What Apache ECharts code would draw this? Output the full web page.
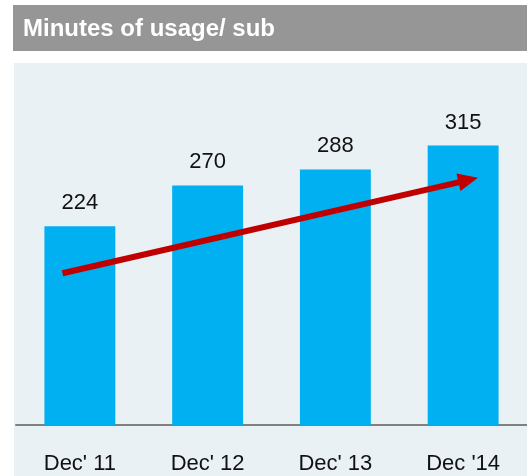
<!DOCTYPE html>
<html>
<head>
<meta charset="utf-8">
<script src="https://cdn.jsdelivr.net/npm/echarts@6/dist/echarts.min.js"></script>
<style>
  html, body { margin: 0; padding: 0; background: #fff; }
  #chart { width: 527px; height: 476px; }
</style>
</head>
<body>
<div id="chart"></div>
<script>
// data
const categories = ["Dec' 11", "Dec' 12", "Dec' 13", "Dec '14"];
const minutes = [224, 270, 288, 315];
// trend arrow ends, in (category position, value) units
const trendStart = [-0.136, 171];
const trendEnd = [3.04, 276];

const chart = echarts.init(document.getElementById('chart'));
chart.setOption({
    animation: false,
    graphic: [
        {
            type: 'rect',
            z: -10,
            shape: { x: 13, y: 5, width: 514, height: 46 },
            style: { fill: '#969696' }
        },
        {
            type: 'text',
            z: -9,
            left: 23,
            top: 17,
            style: {
                text: 'Minutes of usage/ sub',
                fill: '#fff',
                font: 'bold 24px "Liberation Sans", Arial, sans-serif'
            }
        },
        {
            type: 'rect',
            z: -10,
            shape: { x: 14, y: 63, width: 513, height: 413 },
            style: { fill: '#e9f1f5' }
        }
    ],
    grid: {
        left: 16,
        top: 70,
        width: 514,
        height: 355
    },
    xAxis: [
        {
            type: 'category',
            data: categories,
            axisTick: { show: false },
            axisLine: { lineStyle: { color: '#808080', width: 2 } },
            axisLabel: {
                color: '#111',
                fontSize: 22,
                fontFamily: '"Liberation Sans", Arial, sans-serif',
                margin: 28
            }
        },
        {
            type: 'value',
            min: -0.5,
            max: 3.5,
            show: false
        }
    ],
    yAxis: {
        type: 'value',
        min: 0,
        max: 400,
        show: false,
        splitLine: { show: false }
    },
    series: [
        {
            type: 'bar',
            data: minutes,
            barWidth: '55.5%',
            itemStyle: { color: '#00b0f0' },
            label: {
                show: true,
                position: 'top',
                distance: 12,
                color: '#111',
                fontSize: 22,
                fontFamily: '"Liberation Sans", Arial, sans-serif'
            }
        },
        {
            type: 'line',
            xAxisIndex: 1,
            data: [],
            markLine: {
                silent: true,
                symbol: ['none', 'triangle'],
                symbolSize: [18, 20],
                label: { show: false },
                lineStyle: { color: '#c00000', width: 6, type: 'solid' },
                data: [[{ coord: trendStart }, { coord: trendEnd }]]
            }
        }
    ]
});
</script>
</body>
</html>
